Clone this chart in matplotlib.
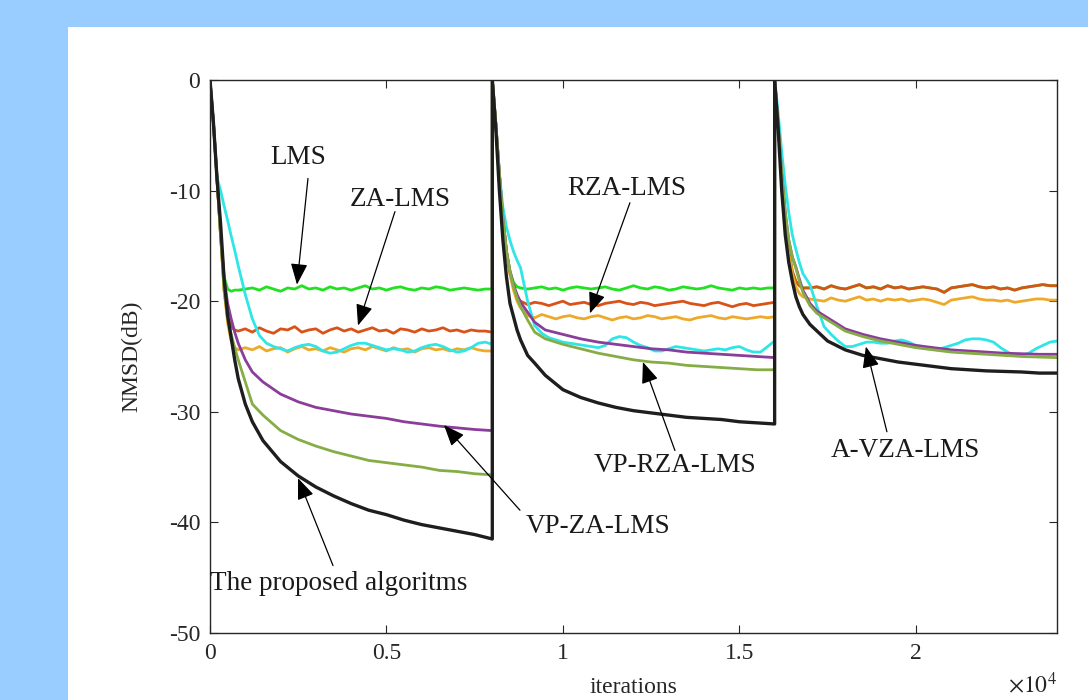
import matplotlib
matplotlib.use('Agg')
import matplotlib.pyplot as plt
from matplotlib.patches import Rectangle

plt.rcParams['font.family'] = ['Liberation Serif', 'DejaVu Serif']
plt.rcParams['mathtext.fontset'] = 'stix'

STAGE_LEN = 8000  # channel changes every 8000 iterations

# sample points inside one stage (iterations after the reset)
early = [0, 100, 200, 300, 400, 500, 600, 700, 800]
offsets_noisy = early + list(range(1000, 7801, 200)) + [7999]
offsets_smooth = early + [1000, 1200, 1500, 2000, 2500, 3000, 3500, 4000, 4500,
                          5000, 5500, 6000, 6500, 7000, 7500, 7999]

# ---- LMS (green)
lms_s1 = [0, -4, -9, -14, -17.8, -18.9, -19.1, -19.0, -19.0,
          -18.9, -18.8, -19.0, -18.7, -18.9, -19.1, -18.8,
          -18.9, -18.6, -18.9, -18.8, -19.0, -18.7, -18.9,
          -18.8, -19.0, -18.8, -18.6, -18.9, -18.8, -19.0,
          -18.8, -18.7, -18.9, -19.0, -18.8, -18.9, -18.7,
          -18.8, -19.0, -18.9, -18.8, -18.9, -19.0, -18.9,
          -18.9]
lms_s2 = [0, -4, -8.5, -12.5, -15.5, -17.3, -18.3, -18.7, -18.8,
          -18.9, -18.8, -18.7, -18.9, -18.8, -19.0, -18.8,
          -18.7, -18.8, -18.9, -18.8, -18.7, -18.9, -19.0,
          -18.8, -18.6, -18.8, -18.9, -18.7, -18.8, -19.0,
          -18.9, -18.7, -18.8, -18.9, -18.8, -18.6, -18.8,
          -18.9, -19.0, -18.8, -18.9, -18.8, -18.9, -18.8,
          -18.8]

# ---- ZA-LMS (red-orange)
za_s1 = [0, -4, -9, -14, -19, -21.5, -22.3, -22.6, -22.7,
         -22.5, -22.8, -22.4, -22.7, -22.9, -22.5, -22.6,
         -22.3, -22.8, -22.6, -22.5, -22.9, -22.6, -22.4,
         -22.7, -22.5, -22.8, -22.6, -22.4, -22.7, -22.6,
         -22.9, -22.5, -22.6, -22.8, -22.5, -22.7, -22.6,
         -22.4, -22.7, -22.6, -22.8, -22.6, -22.7, -22.7,
         -22.8]
za_s2 = [0, -4, -8.5, -12.5, -15.5, -17.5, -18.8, -19.6, -20.0,
         -20.3, -20.1, -20.2, -20.4, -20.2, -20.0, -20.3,
         -20.2, -20.1, -20.3, -20.4, -20.2, -20.1, -20.0,
         -20.2, -20.3, -20.1, -20.2, -20.4, -20.3, -20.2,
         -20.1, -20.0, -20.2, -20.3, -20.4, -20.2, -20.1,
         -20.3, -20.5, -20.3, -20.2, -20.4, -20.3, -20.2,
         -20.1]
za_s3 = [0, -4, -8.5, -12.5, -15.5, -17.3, -18.2, -18.6, -18.8,
         -18.8, -18.7, -18.9, -18.6, -18.8, -18.9, -18.7,
         -18.5, -18.8, -18.7, -18.9, -18.6, -18.8, -18.7,
         -18.9, -18.8, -18.7, -18.8, -18.9, -19.2, -18.8,
         -18.7, -18.6, -18.5, -18.7, -18.8, -18.7, -18.9,
         -18.8, -19.0, -18.8, -18.7, -18.6, -18.5, -18.6,
         -18.6]
# in the third stage the LMS curve is hidden under ZA-LMS
lms_s3 = list(za_s3)

# ---- RZA-LMS (orange)
rza_s1 = [0, -4, -9, -14, -19, -22, -23.6, -24.2, -24.4,
          -24.2, -24.4, -24.1, -24.5, -24.3, -24.2, -24.6,
          -24.3, -24.1, -24.4, -24.3, -24.5, -24.2, -24.4,
          -24.6, -24.3, -24.2, -24.4, -24.1, -24.3, -24.5,
          -24.2, -24.4, -24.3, -24.6, -24.3, -24.2, -24.4,
          -24.3, -24.5, -24.3, -24.4, -24.2, -24.4, -24.5,
          -24.5]
rza_s2 = [0, -4, -8.5, -12.5, -15.5, -17.6, -19.0, -20.0, -20.6,
          -21.3, -21.5, -21.2, -21.4, -21.6, -21.4, -21.3,
          -21.5, -21.6, -21.4, -21.3, -21.5, -21.7, -21.5,
          -21.4, -21.6, -21.5, -21.3, -21.4, -21.6, -21.5,
          -21.4, -21.6, -21.7, -21.5, -21.4, -21.3, -21.5,
          -21.6, -21.4, -21.5, -21.6, -21.5, -21.4, -21.5,
          -21.4]
rza_s3 = [0, -4, -8.5, -12.5, -15.5, -17.5, -18.7, -19.3, -19.6,
          -19.8, -19.9, -20.0, -19.7, -19.9, -20.0, -19.8,
          -19.6, -19.9, -19.8, -20.0, -19.8, -19.9, -19.8,
          -20.0, -19.9, -19.8, -19.9, -20.1, -20.3, -19.9,
          -19.8, -19.7, -19.6, -19.8, -19.9, -19.9, -20.0,
          -19.9, -20.1, -20.0, -19.9, -19.8, -19.8, -19.9,
          -19.9]

# ---- A-VZA-LMS (cyan)
avza_s1 = [0, -4, -8.8, -10.0, -11.4, -12.7, -14.1, -15.4, -16.8,
           -19.4, -21.6, -23.1, -23.8, -24.1,
           -24.3, -24.5, -24.2, -24.0, -23.9,
           -24.1, -24.5, -24.7, -24.6, -24.3,
           -24.0, -23.8, -23.8, -24.0, -24.2,
           -24.4, -24.3, -24.4, -24.6, -24.5,
           -24.2, -24.0, -23.9, -24.1, -24.4,
           -24.6, -24.5, -24.2, -23.8, -23.7,
           -23.9]
avza_s2 = [0, -4, -8.5, -11.5, -13.3, -14.5, -15.5, -16.3, -17.0,
           -20.0, -22.2, -22.9, -23.3, -23.5,
           -23.7, -23.8, -23.9, -24.0, -24.1,
           -24.2, -24.0, -23.4, -23.2, -23.3,
           -23.7, -24.0, -24.2, -24.5, -24.5,
           -24.3, -24.1, -24.2, -24.3, -24.4,
           -24.5, -24.4, -24.3, -24.4, -24.2,
           -24.1, -24.4, -24.6, -24.6, -24.1,
           -23.6]
avza_s3 = [0, -3, -6.5, -9.5, -12, -14, -15.3, -16.5, -17.5,
           -18.5, -20.5, -22.3, -23.0, -23.6,
           -24.1, -24.1, -23.9, -23.7, -23.7,
           -23.8, -23.8, -23.6, -23.5, -23.7,
           -24.0, -24.1, -24.3, -24.4, -24.2,
           -24.0, -23.8, -23.5, -23.4, -23.4,
           -23.5, -23.7, -24.2, -24.6, -24.9,
           -24.9, -24.7, -24.3, -24.0, -23.7,
           -23.6]

# ---- VP-ZA-LMS (purple)
vpza_s1 = [0, -4, -9, -14, -18, -20.2, -21.6, -22.8, -23.8, -25.3, -26.4, -27.3,
           -28.4, -29.1, -29.6, -29.9, -30.2, -30.4, -30.6, -30.9, -31.1, -31.3,
           -31.45, -31.6, -31.7]
vpza_s2 = [0, -4, -8.5, -12.5, -15.5, -17.3, -18.5, -19.4, -20.1, -21.0, -21.9, -22.6,
           -23.0, -23.4, -23.7, -23.9, -24.1, -24.3, -24.4, -24.6, -24.7, -24.8,
           -24.9, -25.0, -25.1]
vpza_s3 = [0, -4, -8.5, -12, -14.5, -16.0, -16.9, -18.0, -19.0, -20.2, -20.9, -21.5,
           -22.5, -23.0, -23.4, -23.7, -24.0, -24.2, -24.4, -24.5, -24.6, -24.7,
           -24.75, -24.8, -24.8]

# ---- VP-RZA-LMS (olive)
vprza_s1 = [0, -4, -9, -14, -19, -21.5, -23.0, -24.2, -25.3, -27.3, -29.3, -30.3,
            -31.7, -32.5, -33.1, -33.6, -34.0, -34.4, -34.6, -34.8, -35.0, -35.3,
            -35.4, -35.6, -35.7]
vprza_s2 = [0, -4, -8.5, -12.5, -15.5, -17.3, -18.7, -19.7, -20.5, -21.7, -22.8, -23.4,
            -23.9, -24.3, -24.7, -25.0, -25.3, -25.5, -25.6, -25.8, -25.9, -26.0,
            -26.1, -26.2, -26.2]
vprza_s3 = [0, -4, -8.5, -12, -14.5, -16.0, -17.0, -18.2, -19.2, -20.4, -21.1, -21.7,
            -22.7, -23.2, -23.6, -23.9, -24.2, -24.4, -24.6, -24.7, -24.8, -24.9,
            -25.0, -25.05, -25.1]

# ---- proposed (black)
prop_s1 = [0, -4, -9, -13, -18, -21.3, -23.3, -25.3, -27.0, -29.3, -30.9, -32.6,
           -34.5, -35.8, -36.8, -37.6, -38.3, -38.9, -39.3, -39.8, -40.2, -40.5,
           -40.8, -41.1, -41.5]
prop_s2 = [0, -4.5, -10, -14.5, -17.8, -20.2, -21.4, -22.6, -23.5, -24.9, -25.6, -26.7,
           -28.0, -28.7, -29.2, -29.6, -29.9, -30.1, -30.3, -30.5, -30.6, -30.7,
           -30.9, -31.0, -31.1]
prop_s3 = [0, -4.5, -10, -14, -16.5, -18.2, -19.6, -20.5, -21.2, -22.1, -22.7, -23.6,
           -24.4, -24.9, -25.2, -25.5, -25.7, -25.9, -26.1, -26.2, -26.3, -26.35,
           -26.4, -26.5, -26.5]


def stitch(offsets, stages):
    xs, ys = [], []
    for k, vals in enumerate(stages):
        assert len(vals) == len(offsets), (k, len(vals), len(offsets))
        xs += [o + k * STAGE_LEN for o in offsets]
        ys += vals
    return xs, ys


curves = [
    (offsets_noisy, [lms_s1, lms_s2, lms_s3], '#22e022', 2.0),
    (offsets_noisy, [za_s1, za_s2, za_s3], '#d95319', 2.0),
    (offsets_noisy, [rza_s1, rza_s2, rza_s3], '#edaa2a', 2.0),
    (offsets_noisy, [avza_s1, avza_s2, avza_s3], '#2fe6e6', 2.0),
    (offsets_smooth, [vpza_s1, vpza_s2, vpza_s3], '#8a3d9a', 2.0),
    (offsets_smooth, [vprza_s1, vprza_s2, vprza_s3], '#86ad45', 2.0),
    (offsets_smooth, [prop_s1, prop_s2, prop_s3], '#1e1e1e', 2.4),
]

fig = plt.figure(figsize=(10.88, 7.0), dpi=100)
fig.patch.set_facecolor('#99ccff')
fig.add_artist(Rectangle((68 / 1088, 0), 1, 673 / 700, transform=fig.transFigure,
                         facecolor='white', edgecolor='none', zorder=-10))

ax = fig.add_axes([210 / 1088, 67 / 700, 847 / 1088, 553 / 700])
for offs, stages, color, lw in curves:
    x, y = stitch(offs, stages)
    ax.plot(x, y, color=color, lw=lw)

ax.set_xlim(0, 24000)
ax.set_ylim(-50, 0)
ax.set_xticks([0, 5000, 10000, 15000, 20000])
ax.set_xticklabels(['0', '0.5', '1', '1.5', '2'])
ax.set_yticks([0, -10, -20, -30, -40, -50])
ax.set_yticklabels(['0', '-10', '-20', '-30', '-40', '-50'])
ax.tick_params(direction='in', length=6, width=0.8, top=True, right=True,
               labelsize=17, colors='#262626')
ax.tick_params(axis='x', pad=7)
ax.tick_params(axis='y', pad=7)
for s in ax.spines.values():
    s.set_color('#262626')
    s.set_linewidth(1.0)

ax.set_ylabel('NMSD(dB)', fontsize=17, color='#262626')
ax.yaxis.set_label_coords(-0.08, 0.5)
fig.text(633 / 1088, 2 / 700, 'iterations', fontsize=17, color='#262626',
         ha='center', va='bottom')
fig.text(1057 / 1088, 2 / 700, r'$\times10^{4}$', fontsize=17, color='#262626',
         ha='right', va='bottom')

# annotations: (text, text pos, arrow tail, arrow head)
notes = [
    ('LMS', (2500, -7.0), (2776, -8.9), (2465, -18.5)),
    ('ZA-LMS', (5383, -10.8), (5241, -11.9), (4193, -22.2)),
    ('RZA-LMS', (11814, -9.8), (11899, -11.1), (10766, -21.1)),
    ('VP-ZA-LMS', (10992, -40.4), (8783, -38.9), (6630, -31.2)),
    ('The proposed algoritms', (3655, -45.5), (3485, -43.9), (2493, -36.0)),
    ('VP-RZA-LMS', (13174, -34.9), (13174, -33.5), (12267, -25.5)),
    ('A-VZA-LMS', (19690, -33.5), (19180, -31.8), (18585, -24.1)),
]
for label, tpos, tail, head in notes:
    ax.text(tpos[0], tpos[1], label, fontsize=19.5, color='#1a1a1a',
            ha='center', va='center')
    ax.annotate('', xy=head, xytext=tail,
                arrowprops=dict(arrowstyle='-|>,head_length=1.0,head_width=0.4',
                                color='k', lw=0.9, shrinkA=0, shrinkB=0,
                                mutation_scale=13))

fig.savefig('out.png', dpi=100, facecolor=fig.get_facecolor())
